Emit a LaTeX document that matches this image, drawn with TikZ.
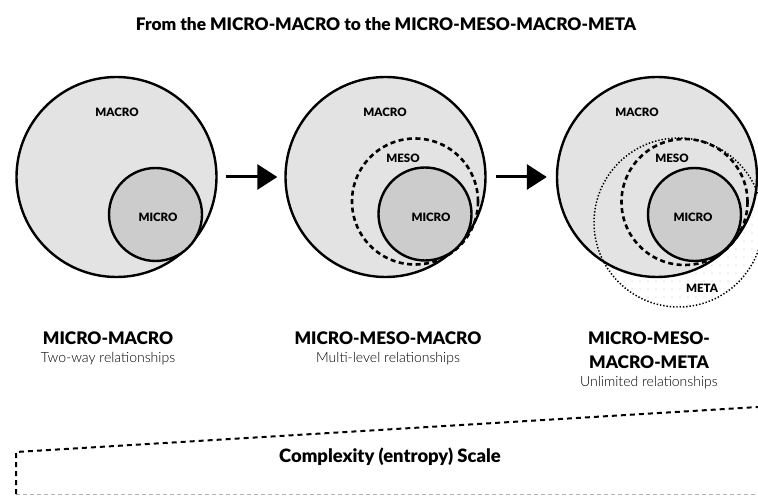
\documentclass[tikz,border=0pt]{standalone}
\usepackage{fontspec}
\setmainfont{Lato}[BoldFont={Lato Black}]
\newfontfamily\lightfont{Lato Light}
\usetikzlibrary{
  arrows.meta,
  positioning,
  patterns.meta
}
\definecolor{macrogray}{gray}{0.89}
\definecolor{microgray}{gray}{0.80}
\tikzset{
  macrocirc/.style={draw, circle, line width=2.4pt, fill=macrogray,
    minimum size=200pt, inner sep=0pt},
  microcirc/.style={draw, circle, line width=2.4pt, fill=microgray,
    minimum size=93pt, inner sep=0pt},
  mesocirc/.style={draw, circle, line width=2.6pt,
    dash pattern=on 5pt off 3.5pt, minimum size=126pt, inner sep=0pt},
  metacirc/.style={draw, circle, line width=1.5pt,
    dash pattern=on 1.4pt off 1.9pt, minimum size=169pt, inner sep=0pt},
  lvl/.style={font=\bfseries\fontsize{11.5}{14}\selectfont},
  headlbl/.style={font=\bfseries\fontsize{17.3}{24}\selectfont, align=center},
  sublbl/.style={font=\lightfont\fontsize{14}{16}\selectfont},
  arr/.style={-{Triangle[length=20pt, width=25pt]}, line width=3pt},
}

\begin{document}
\begin{tikzpicture}[x=1pt, y=-1pt]
  \useasboundingbox (0,0) rectangle (758,497);

  % Title
  \node[headlbl] (title) at (386,24)
    {From the MICRO-MACRO to the MICRO-MESO-MACRO-META};

  % Stage 1: micro-macro
  \node[macrocirc] (macroA) at (116.5,177) {};
  \node[microcirc] (microA) at (155.5,214.5) {};
  \node[lvl] (macroAlbl) at (117,112) {MACRO};
  \node[lvl] (microAlbl) at (158,217) {MICRO};

  % Stage 2: micro-meso-macro
  \node[macrocirc] (macroB) at (385.5,177) {};
  \node[mesocirc] (mesoB) at (415,201.5) {};
  \node[microcirc] (microB) at (425,214) {};
  \node[lvl] (macroBlbl) at (385,112) {MACRO};
  \node[lvl] (mesoBlbl) at (403,158) {MESO};
  \node[lvl] (microBlbl) at (431,217) {MICRO};

  % Stage 3: micro-meso-macro-meta
  \fill[pattern={Dots[distance=8pt, radius=0.7pt]}, pattern color=gray!40]
    (678.5,222.5) circle (84.5);
  \node[macrocirc] (macroC) at (657,177) {};
  \node[metacirc] (metaC) at (678.5,222.5) {};
  \node[mesocirc] (mesoC) at (684.5,202) {};
  \node[microcirc] (microC) at (694.5,214.5) {};
  \node[lvl] (macroClbl) at (637,112) {MACRO};
  \node[lvl] (mesoClbl) at (672,158) {MESO};
  \node[lvl] (microClbl) at (693,217) {MICRO};
  \node[lvl] (metaClbl) at (702,288) {META};

  \draw[arr, shorten <=8pt, shorten >=7pt] (macroA) -- (macroB);
  \draw[arr, shorten <=9pt, shorten >=9pt] (macroB) -- (macroC);

  % Names
  \node[headlbl] (headA) at (108,338) {MICRO-MACRO};
  \node[sublbl, below=1pt of headA] (subA) {Two-way relationships};
  \node[headlbl] (headB) at (388,338) {MICRO-MESO-MACRO};
  \node[sublbl, below=1pt of headB] (subB) {Multi-level relationships};
  \node[headlbl] (headC) at (649,350) {MICRO-MESO-\\MACRO-META};
  \node[sublbl, below=1pt of headC] (subC) {Unlimited relationships};

  % Scale
  \coordinate (sbl) at (16,494);
  \coordinate (stl) at (16,452);
  \coordinate (str) at (758,407);
  \coordinate (sbr) at (758,494);
  \draw[gray!60, line width=1pt, dash pattern=on 4pt off 3pt] (sbl) -- (sbr);
  \draw[line width=2pt, dash pattern=on 5pt off 4pt] (sbl) -- (stl) -- (str);
  \node[font=\bfseries\fontsize{18.4}{20}\selectfont] (scale) at (390,457)
    {Complexity (entropy) Scale};
\end{tikzpicture}
\end{document}
